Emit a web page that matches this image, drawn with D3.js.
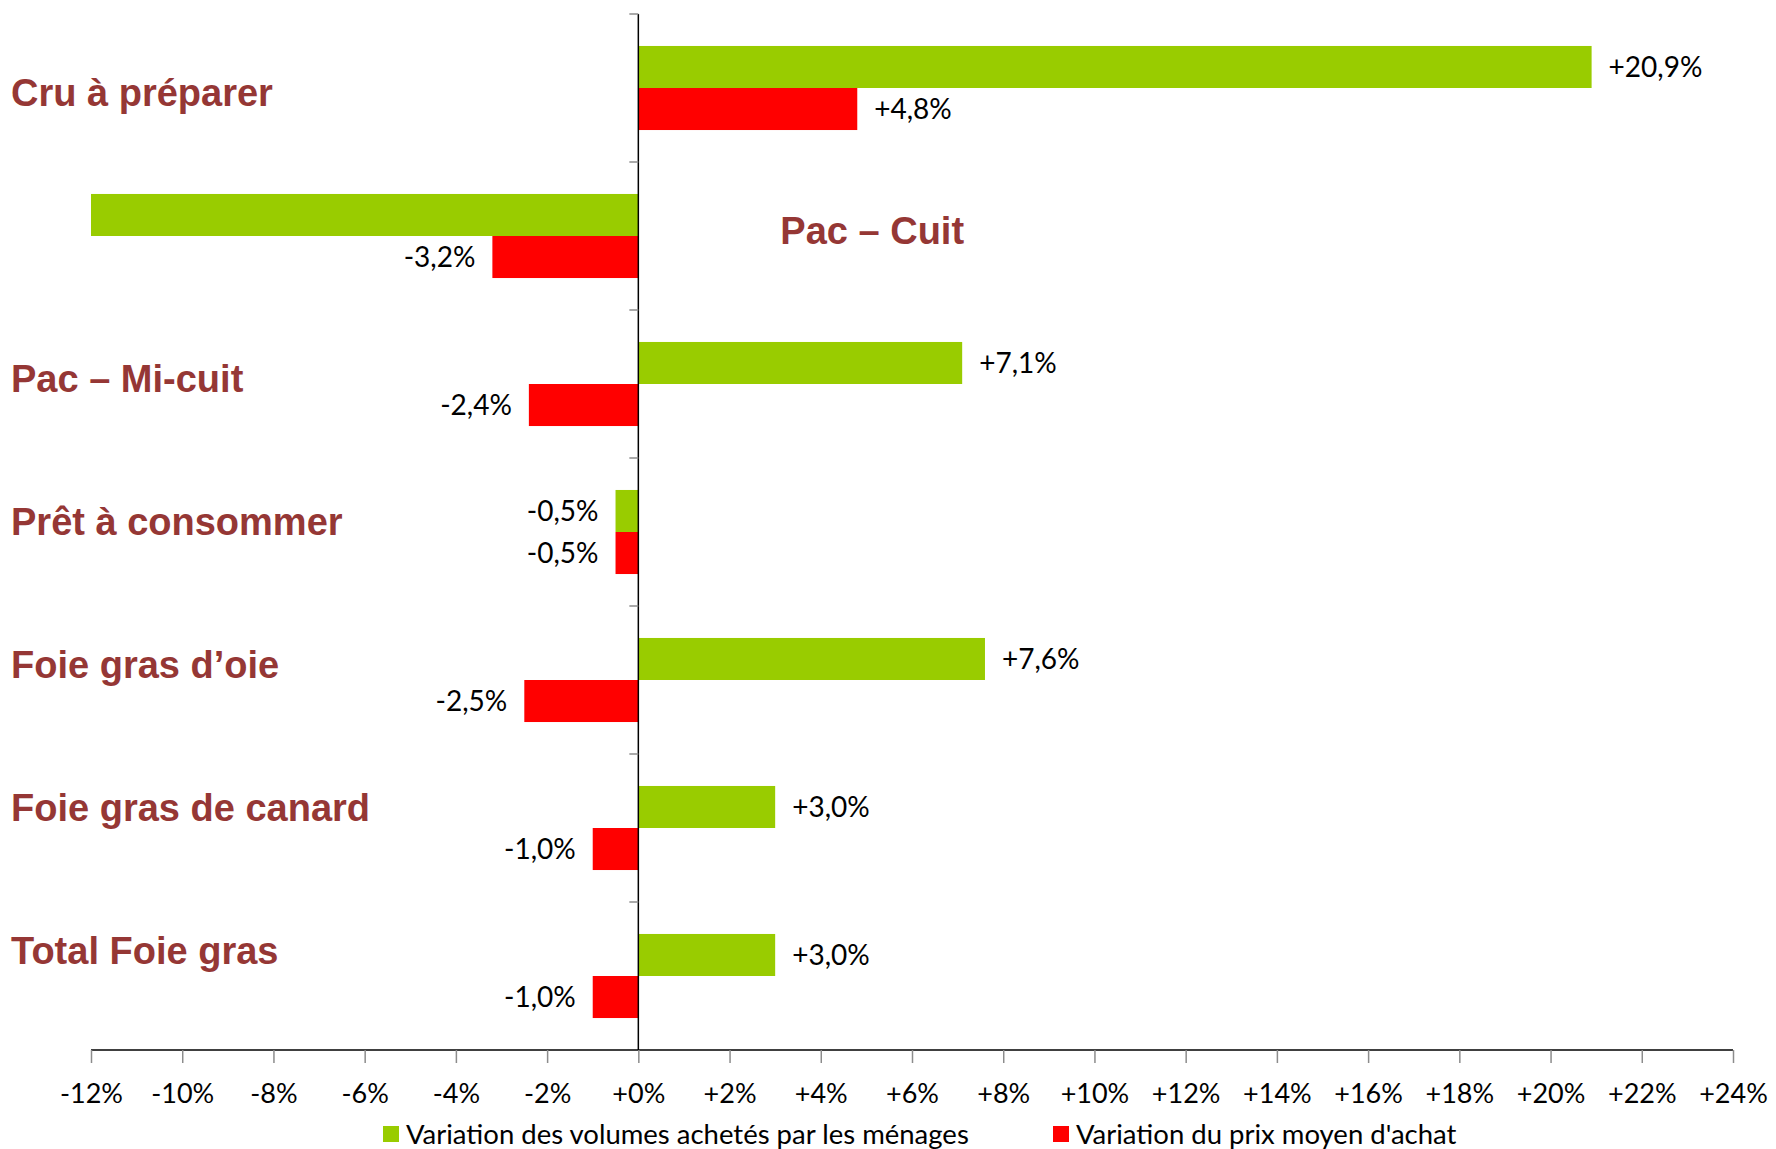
<!DOCTYPE html>
<html>
<head>
<meta charset="utf-8">
<script src="https://cdn.jsdelivr.net/npm/d3@7"></script>
<style>
  body { margin: 0; background: #fff; }
  svg { display: block; }
</style>
</head>
<body>
<svg id="chart"></svg>
<script>
// categories, top to bottom
var categories = ["Cru à préparer", "Pac – Cuit", "Pac – Mi-cuit", "Prêt à consommer",
  "Foie gras d’oie", "Foie gras de canard", "Total Foie gras"];
// variation des volumes (green) and du prix moyen (red), in %
var volumes = [20.9, -12.0, 7.1, -0.5, 7.6, 3.0, 3.0];
var prix = [4.8, -3.2, -2.4, -0.5, -2.5, -1.0, -1.0];
var seriesNames = ["Variation des volumes achetés par les ménages", "Variation du prix moyen d'achat"];
var tickValues = [-12, -10, -8, -6, -4, -2, 0, 2, 4, 6, 8, 10, 12, 14, 16, 18, 20, 22, 24];

window.onload = function() {
  var width = 1776, height = 1149;
  var margin = {top: 14, right: 43, bottom: 99, left: 91};
  var colors = ["#99cc00", "#ff0000"];
  var numFont = "Lato, 'Open Sans', sans-serif";

  var svg = d3.select("#chart").attr("width", width).attr("height", height);

  var x = d3.scaleLinear().domain([-12, 24]).range([margin.left, width - margin.right]);
  var y = d3.scaleBand().domain(categories)
    .range([margin.top, height - margin.bottom])
    .paddingInner(0.432).paddingOuter(0.216);
  var sub = d3.scaleBand().domain([0, 1]).range([0, y.bandwidth()]);

  var fmtTick = function(d) { return (d < 0 ? "" : "+") + d + "%"; };
  var fmtVal = function(d) { return (d < 0 ? "-" : "+") + d3.format(".1f")(Math.abs(d)).replace(".", ",") + "%"; };

  var rows = categories.map(function(c, i) {
    return {cat: c, vals: [{s: 0, v: volumes[i]}, {s: 1, v: prix[i]}]};
  });

  // bars
  var g = svg.append("g");
  var groups = g.selectAll(".grp").data(rows).enter().append("g")
    .attr("class", "grp")
    .attr("transform", function(d) { return "translate(0," + y(d.cat) + ")"; });

  groups.selectAll("rect").data(function(d) { return d.vals; }).enter().append("rect")
    .attr("x", function(d) { return x(Math.min(0, d.v)); })
    .attr("width", function(d) { return Math.abs(x(d.v) - x(0)); })
    .attr("y", function(d) { return sub(d.s); })
    .attr("height", sub.bandwidth())
    .attr("fill", function(d) { return colors[d.s]; });

  // data labels (hidden when the bar is clipped at the axis min)
  groups.selectAll("text")
    .data(function(d) { return d.vals.filter(function(e) { return e.v > x.domain()[0]; }); })
    .enter().append("text")
    .attr("x", function(d) { return d.v >= 0 ? x(d.v) + 17 : x(d.v) - 17; })
    .attr("y", function(d) { return sub(d.s) + sub.bandwidth() / 2; })
    .attr("dy", "0.35em")
    .attr("text-anchor", function(d) { return d.v >= 0 ? "start" : "end"; })
    .style("font-family", numFont)
    .style("font-size", "28px")
    .attr("fill", "#000")
    .text(function(d) { return fmtVal(d.v); });

  // x axis
  var xAxis = svg.append("g")
    .attr("transform", "translate(0," + (height - margin.bottom) + ")")
    .call(d3.axisBottom(x).tickValues(tickValues).tickSize(13).tickPadding(21).tickFormat(fmtTick));
  xAxis.select(".domain").attr("stroke", "#000").attr("stroke-width", 1.5).attr("d", "M" + x(-12) + ",0H" + x(24));
  xAxis.selectAll(".tick line").attr("stroke", "#8c8c8c").attr("stroke-width", 1.5);
  xAxis.selectAll(".tick text")
    .style("font-family", numFont).style("font-size", "27px").attr("fill", "#000");

  // vertical axis at zero with category separators
  var yTop = margin.top, yBot = height - margin.bottom;
  svg.append("line")
    .attr("x1", x(0)).attr("x2", x(0)).attr("y1", yTop).attr("y2", yBot)
    .attr("stroke", "#000").attr("stroke-width", 1.5);
  var seps = categories.map(function(c) { return y(c) - y.step() * y.paddingOuter(); });
  svg.selectAll(".sep").data(seps).enter().append("line")
    .attr("class", "sep")
    .attr("x1", x(0) - 9).attr("x2", x(0))
    .attr("y1", function(d) { return d; }).attr("y2", function(d) { return d; })
    .attr("stroke", "#8c8c8c").attr("stroke-width", 1.5);

  // category labels (text boxes on the left, "Pac – Cuit" placed right of the axis)
  var lab = d3.scalePoint().domain(categories).range([93, 951]);
  svg.selectAll(".cat").data(categories).enter().append("text")
    .attr("class", "cat")
    .attr("x", function(d, i) { return i === 1 ? x(0) + 142 : 11; })
    .attr("y", function(d, i) { return i === 1 ? lab(d) - 5 : lab(d); })
    .attr("dy", "0.35em")
    .style("font-family", "'Liberation Sans', Arial, sans-serif")
    .style("font-weight", "bold")
    .style("font-size", "38px")
    .attr("fill", "#953735")
    .text(function(d) { return d; });

  // legend
  var legX = [383, 1053];
  var leg = svg.selectAll(".leg").data(seriesNames).enter().append("g")
    .attr("class", "leg")
    .attr("transform", function(d, i) { return "translate(" + legX[i] + "," + 1134 + ")"; });
  leg.append("rect").attr("x", 0).attr("y", -8).attr("width", 16).attr("height", 16)
    .attr("fill", function(d, i) { return colors[i]; });
  leg.append("text").attr("x", 23).attr("dy", "0.35em")
    .style("font-family", numFont).style("font-size", "27.5px").attr("fill", "#000")
    .text(function(d) { return d; });
};
</script>
</body>
</html>
